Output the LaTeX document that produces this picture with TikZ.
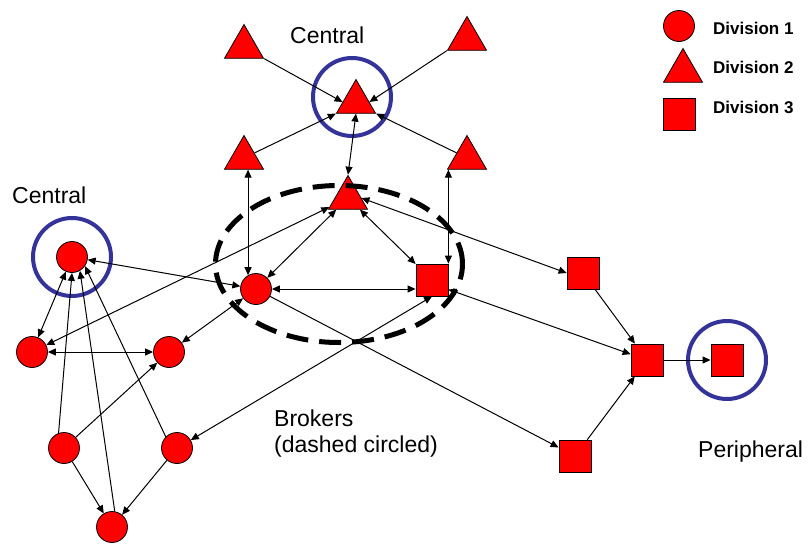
\documentclass[tikz,border=0pt]{standalone}
\usepackage{fontspec}
\setmainfont{Liberation Sans}
\usetikzlibrary{shapes.geometric,arrows.meta,calc}
\definecolor{nodered}{RGB}{255,0,0}
\definecolor{ringblue}{RGB}{51,51,153}
\begin{document}
\begin{tikzpicture}[x=1pt,y=-1pt,
  circ/.style={circle,draw=black,line width=0.8pt,fill=nodered,minimum size=31pt,inner sep=0pt},
  tri/.style={regular polygon,regular polygon sides=3,draw=black,line width=0.8pt,fill=nodered,minimum size=45pt,inner sep=0pt},
  sq/.style={rectangle,draw=black,line width=0.8pt,fill=nodered,minimum size=32pt,inner sep=0pt},
  ring/.style={circle,draw=ringblue,line width=4pt,minimum size=78pt,inner sep=0pt},
  conn/.style={line width=1pt,draw=black},
  arr/.style={conn,-{Triangle[length=8pt,width=7pt]}},
  darr/.style={conn,{Triangle[length=8pt,width=7pt]}-{Triangle[length=8pt,width=7pt]}},
  lbl/.style={font=\fontsize{23}{27}\selectfont,anchor=base west,inner sep=0pt},
  leg/.style={font=\bfseries\fontsize{17}{20}\selectfont,anchor=base west,inner sep=0pt}]
\fill[white] (0,0) rectangle (809,544);
\useasboundingbox (0,0) rectangle (809,544);
% rings
\node[ring] (RC) at (352,97) {};
\node[ring] (RL) at (72,257) {};
\node[ring] (RP) at (727,360) {};
% division 2
\node[tri] (T1) at (244,47) {};
\node[tri] (T2) at (467,39) {};
\node[tri] (TC) at (356,102) {};
\node[tri] (T3) at (244,158) {};
\node[tri] (T4) at (467,158) {};
\node[tri] (TB) at (348,198) {};
% brokers
\node[circ] (CB) at (256,289) {};
\node[sq] (SB) at (432,280) {};
% division 1
\node[circ] (CL) at (72,257) {};
\node[circ] (L1) at (32,352) {};
\node[circ] (L2) at (169,352) {};
\node[circ] (L3) at (64,448) {};
\node[circ] (L4) at (177,448) {};
\node[circ] (L5) at (112,527) {};
% division 3
\node[sq] (R1) at (583,273) {};
\node[sq] (R2) at (647,360) {};
\node[sq] (R3) at (727,360) {};
\node[sq] (R4) at (575,456) {};
% legend
\node[circ] (K1) at (679,26) {};
\node[tri] (K2) at (683,71) {};
\node[sq] (K3) at (679,114) {};
\node[leg] (D1) at (713,34) {Division 1};
\node[leg] (D2) at (713,73) {Division 2};
\node[leg] (D3) at (713,113) {Division 3};
% labels
\node[lbl] (LC1) at (290,43) {Central};
\node[lbl] (LC2) at (12,203) {Central};
\node[lbl] (LP) at (698,457) {Peripheral};
\node[lbl] (LB1) at (274,426) {Brokers};
\node[lbl] (LB2) at (274,452) {(dashed circled)};
% top connectors
\draw[arr] (T1.corner 3) -- (TC.west);
\draw[arr] (T2.corner 2) -- (TC.east);
\draw[arr] (T3) -- (TC.corner 2);
\draw[arr] (T4) -- (TC.corner 3);
\draw[darr] (TC.south) -- (TB.corner 1);
\draw[darr] (CB.120 |- T3.south) -- (CB.120);
\draw[darr] (SB.north east |- T4.south) -- (SB.north east);
% broker triangle
\draw[darr] (TB) -- (CB);
\draw[darr] (TB) -- (SB);
\draw[darr] (CB.east) -- (CB.east -| SB.west);
\draw[darr] (TB.east) -- (R1.west);
\draw[darr] (SB.-30) -- (R2);
\draw[arr] (CB) -- (R4);
% right group
\draw[arr] (R1) -- (R2);
\draw[arr] (R4) -- (R2);
\draw[arr] (R2) -- (R3);
% left group
\draw[darr] (CL) -- (CB);
\draw[darr] (L1) -- (TB);
\draw[darr] (L1) -- (CL);
\draw[darr] (L1) -- (L2);
\draw[darr] (L2) -- (CB);
\draw[darr] (SB.south) -- (L4.30);
\draw[arr] (L3.110) -- (CL.south);
\draw[arr] (L5.80) -- (CL.-60);
\draw[arr] (L4.135) -- (CL.-35);
\draw[arr] (L3) -- (L2);
\draw[arr] (L3) -- (L5);
\draw[arr] (L4) -- (L5);
% brokers dashed ellipse
\node[ellipse,draw=black,line width=5pt,dash pattern=on 22pt off 11pt,minimum width=247pt,minimum height=157pt,inner sep=0pt] (BR) at (339,264) {};
\end{tikzpicture}
\end{document}
